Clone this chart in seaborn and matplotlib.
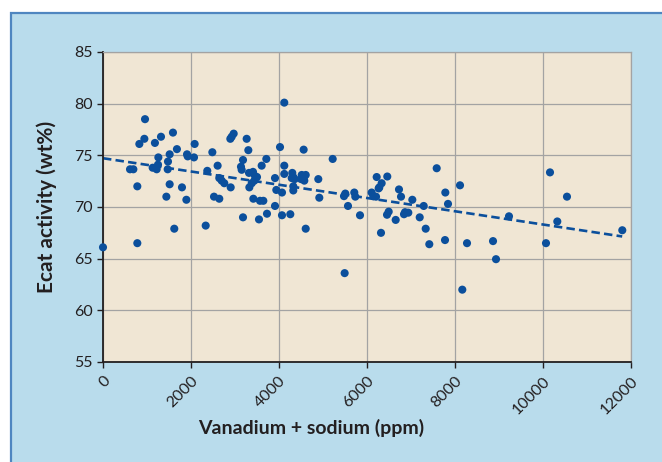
import matplotlib
matplotlib.use("Agg")
import matplotlib.pyplot as plt
import seaborn as sns
import pandas as pd
from matplotlib.patches import Rectangle

# ---- data ----
vanadium_sodium_ppm = [
    0, 780, 955, 826, 940, 1180, 1318, 1590, 1680, 1515, 1258, 1477, 1250, 1129,
    1220, 1470, 614, 690, 780, 1515, 1795, 1440, 1895, 1620, 2334, 1910, 1925,
    2068, 2083, 2485, 2370, 2605, 2643, 2697, 2757, 2902, 2523, 2643, 2894, 2925,
    2970, 3265, 3303, 3182, 3136, 3152, 3318, 3409, 3455, 3500, 3606, 3712, 3440,
    3380, 3326, 3417, 3568, 3644, 3909, 3939, 3909, 3182, 3545, 3727,
    4120, 4023, 4560, 5220, 4120, 4120, 4302, 4325, 4289, 4357, 4516, 4607, 4561,
    4500, 4575, 4893, 4068, 4325, 4325, 4916, 4068, 4257, 4607, 5507, 5477, 5711,
    5734, 5568, 5841, 6220, 6461, 6333, 6280, 6265, 6106, 6143, 6205, 6727, 6773,
    7030, 7289, 7584, 6493, 6455, 6864, 6939, 6841, 6652, 7198, 6318, 7334, 7416,
    7780, 8114, 7841, 7773, 8273, 8166, 8864, 8932, 9227, 10159, 10545, 10325,
    10068, 11802, 5492,
]
ecat_activity_wt = [
    66.1, 66.5, 78.5, 76.1, 76.6, 76.2, 76.8, 77.2, 75.6, 75.1, 74.8, 74.4, 74.1, 73.8,
    73.65, 73.65, 73.65, 73.65, 72.0, 72.2, 71.9, 71.0, 70.7, 67.9, 68.2, 75.1, 74.9,
    74.8, 76.1, 75.3, 73.5, 74.0, 72.8, 72.55, 72.3, 71.9, 71.0, 70.8, 76.6, 76.8,
    77.1, 76.6, 75.5, 74.55, 73.9, 73.6, 73.3, 73.4, 73.0, 72.9, 74.0, 74.65, 72.55,
    72.3, 71.9, 70.8, 70.6, 70.6, 72.8, 71.65, 70.1, 69.0, 68.8, 69.35,
    80.1, 75.8, 75.55, 74.65, 74.0, 73.2, 73.3, 72.9, 72.8, 72.7, 73.1, 73.1, 72.8,
    72.7, 72.55, 72.7, 71.4, 72.0, 71.6, 70.9, 69.2, 69.3, 67.9, 71.3, 71.05, 71.4,
    71.0, 70.1, 69.2, 72.9, 72.95, 72.3, 71.9, 71.8, 71.4, 71.05, 71.0, 71.7, 71.0,
    70.7, 70.1, 73.75, 69.55, 69.25, 69.5, 69.45, 69.3, 68.75, 69.0, 67.5, 67.9, 66.4,
    71.4, 72.1, 70.3, 66.8, 66.5, 62.0, 66.7, 64.95, 69.1, 73.35, 71.0, 68.6,
    66.5, 67.75, 63.6,
]
trend_x = [0, 11800]
trend_y = [74.72, 67.15]

x_ticks = [0, 2000, 4000, 6000, 8000, 10000, 12000]
y_ticks = [55, 60, 65, 70, 75, 80, 85]
x_label = "Vanadium + sodium (ppm)"
y_label = "Ecat activity (wt%)"

df = pd.DataFrame({"x": vanadium_sodium_ppm, "y": ecat_activity_wt})
trend = pd.DataFrame({"x": trend_x, "y": trend_y})

sns.set_style("ticks")
plt.rcParams["font.family"] = ["Lato", "DejaVu Sans"]

W, H = 662, 462
fig = plt.figure(figsize=(W / 100, H / 100), dpi=100)
fig.patch.set_facecolor("white")

# light blue panel with darker blue border (top/left visible)
bg = Rectangle((11 / W, -0.05), 1.2, 1 - 13 / H + 0.05, transform=fig.transFigure,
               facecolor="#b9dcec", edgecolor="#4f86c0", linewidth=1.6, zorder=-10)
fig.add_artist(bg)

ax = fig.add_axes([103 / W, 1 - 362 / H, (631 - 103) / W, (362 - 52) / H])
ax.set_zorder(5)
ax.set_facecolor("#f0e6d4")

sns.scatterplot(data=df, x="x", y="y", ax=ax, color="#0b4f9c", s=34,
                edgecolor="none", linewidth=0, clip_on=False, zorder=3)
sns.lineplot(data=trend, x="x", y="y", ax=ax, color="#0b4f9c", linewidth=1.9,
             linestyle=(0, (3.2, 1.6)), zorder=2)

ax.set_xlim(0, 12000)
ax.set_ylim(55, 85)
ax.set_xticks(x_ticks)
ax.set_yticks(y_ticks)
ax.set_xticklabels([str(v) for v in x_ticks], rotation=45, ha="right",
                   rotation_mode="anchor")
ax.grid(True, color="#a3a3a3", linewidth=0.9, zorder=0)
ax.set_axisbelow(True)

for side in ["top", "right"]:
    ax.spines[side].set_color("#a3a3a3")
    ax.spines[side].set_linewidth(0.9)
for side in ["left", "bottom"]:
    ax.spines[side].set_color("#231f20")
    ax.spines[side].set_linewidth(1.3)

ax.tick_params(axis="both", direction="out", length=4.5, width=1.0,
               color="#231f20", labelcolor="#231f20", labelsize=11.5)
ax.tick_params(axis="y", pad=3)
ax.tick_params(axis="x", pad=4)

ax.set_xlabel(x_label, fontsize=14, fontweight="bold", color="#231f20",
              va="center")
ax.set_ylabel(y_label, fontsize=15, fontweight="bold", color="#231f20",
              va="center")
ax.xaxis.set_label_coords((311.5 - 103) / 528, (362 - 428) / 310)
ax.yaxis.set_label_coords((46.5 - 103) / 528, (362 - 206.5) / 310)

fig.savefig("out.png", dpi=100)
